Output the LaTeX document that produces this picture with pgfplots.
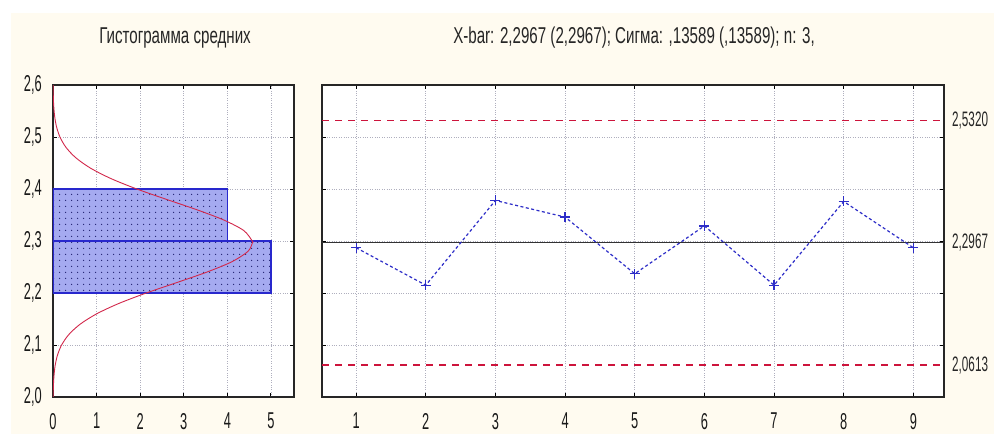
\documentclass[border=0pt]{standalone}
\usepackage{fontspec}
\setmainfont[FakeStretch=0.66]{Liberation Sans}
\newfontfamily\tickfont[FakeStretch=0.56]{Liberation Sans}
\usepackage{pgfplots}
\pgfplotsset{compat=1.18}
\usetikzlibrary{patterns.meta}

\definecolor{paper}{RGB}{255,251,240}
\definecolor{barline}{RGB}{40,40,205}
\definecolor{barfill}{RGB}{165,170,240}
\definecolor{dotnavy}{RGB}{30,30,110}
\definecolor{ctrlred}{RGB}{205,20,60}
\definecolor{fitred}{RGB}{210,40,75}
\definecolor{gridgray}{RGB}{175,175,190}
\definecolor{serblue}{RGB}{45,45,200}

\pgfplotsset{
  qcbase/.style={
    scale only axis,
    axis line style={black!85, line width=1.1pt},
    tick align=inside, major tick length=4bp,
    tick style={black, line width=1pt},
    grid=major, major grid style={gridgray, dotted, line width=0.6pt},
    ymin=2, ymax=2.6,
    ytick={2.0,2.1,2.2,2.3,2.4,2.5,2.6},
    tick label style={font=\tickfont\fontsize{23}{23}\selectfont, black!90, inner sep=0pt},
    xticklabel style={anchor=north, yshift=-16bp},
    yticklabel style={anchor=east, xshift=-11bp},
    axis background/.style={fill=white},
    clip mode=individual,
  }
}

\begin{document}
\begin{tikzpicture}
  \fill[white] (0bp,0bp) rectangle (994bp,434bp);
  \fill[paper] (11bp,0bp) rectangle (994bp,421bp);

  % histogram of subgroup means
  \begin{axis}[qcbase, at={(53bp,37bp)}, anchor=south west,
      width=241bp, height=312bp,
      xmin=0, xmax=5.53, xtick={0,1,2,3,4,5},
      xticklabels={0,1,2,3,4,5},
      yticklabels={{2,0},{2,1},{2,2},{2,3},{2,4},{2,5},{2,6}}]
    \addplot[draw=barline, line width=1.3pt, fill=barfill,
      postaction={pattern={Dots[distance=6bp, radius=0.8bp]}, pattern color=dotnavy}]
      coordinates {(0,2.2) (5,2.2) (5,2.3) (0,2.3)} -- cycle;
    \addplot[draw=barline, line width=1.3pt, fill=barfill,
      postaction={pattern={Dots[distance=6bp, radius=0.8bp]}, pattern color=dotnavy}]
      coordinates {(0,2.3) (4,2.3) (4,2.4) (0,2.4)} -- cycle;
    % fitted normal curve (mean 2.2967, sd 0.0785, n = 9, bin 0.1)
    \addplot[fitred, line width=0.9pt, smooth] coordinates {
      (0.0036,2.00) (0.0091,2.02) (0.0217,2.04) (0.0483,2.06) (0.1010,2.08)
      (0.1975,2.10) (0.3625,2.12) (0.6229,2.14) (1.0027,2.16) (1.514,2.18)
      (2.141,2.20) (2.838,2.22) (3.524,2.24) (4.102,2.26) (4.473,2.28)
      (4.576,2.2967) (4.572,2.30) (4.379,2.32) (3.929,2.34) (3.305,2.36)
      (2.605,2.38) (1.923,2.40) (1.331,2.42) (0.863,2.44) (0.5244,2.46)
      (0.2988,2.48) (0.1594,2.50) (0.0797,2.52) (0.0374,2.54) (0.0164,2.56)
      (0.0067,2.58) (0.0026,2.60)};
  \end{axis}

  % X-bar control chart
  \begin{axis}[qcbase, at={(322bp,37bp)}, anchor=south west,
      width=622bp, height=312bp,
      xmin=0.51, xmax=9.44, xtick={1,...,9},
      xticklabels={1,2,3,4,5,6,7,8,9},
      yticklabels={}]
    \addplot[ctrlred, line width=1.5pt, dash pattern=on 7bp off 6bp]
      coordinates {(0.51,2.5320) (9.44,2.5320)};
    \addplot[ctrlred, line width=1.5pt, dash pattern=on 7bp off 6bp]
      coordinates {(0.51,2.0613) (9.44,2.0613)};
    \addplot[black!80, line width=1.1pt]
      coordinates {(0.51,2.2967) (9.44,2.2967)};
    \addplot[serblue, line width=1.2pt, dash pattern=on 3bp off 2.5bp,
      mark=+, mark size=5bp, mark options={solid, line width=1.2pt}]
      coordinates {(1,2.287) (2,2.215) (3,2.378) (4,2.346) (5,2.237)
                   (6,2.329) (7,2.215) (8,2.376) (9,2.287)};
    \node[anchor=west, font=\tickfont\fontsize{21}{21}\selectfont, black!85, inner sep=0pt, xshift=8bp]
      at (axis cs:9.44,2.5320) {2,5320};
    \node[anchor=west, font=\tickfont\fontsize{21}{21}\selectfont, black!85, inner sep=0pt, xshift=8bp]
      at (axis cs:9.44,2.2967) {2,2967};
    \node[anchor=west, font=\tickfont\fontsize{21}{21}\selectfont, black!85, inner sep=0pt, xshift=8bp]
      at (axis cs:9.44,2.0613) {2,0613};
  \end{axis}

  \node[anchor=base, font=\fontsize{23}{23}\selectfont, black!85] at (175bp,390bp) {Гистограмма средних};
  \node[anchor=base, font=\fontsize{23}{23}\selectfont, black!85] at (634bp,390bp)
    {X-bar: 2,2967 (2,2967); Сигма: ,13589 (,13589); n: 3,};
\end{tikzpicture}
\end{document}
